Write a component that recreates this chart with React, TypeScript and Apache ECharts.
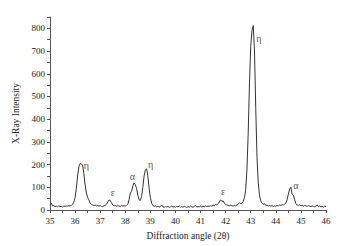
import React, { useEffect, useRef } from "react";
import * as echarts from "echarts";

const angles: number[] = [
  35.00, 35.05, 35.10, 35.15, 35.20, 35.25, 35.30, 35.35, 35.40, 35.45,
  35.50, 35.55, 35.60, 35.65, 35.70, 35.75, 35.80, 35.85, 35.90, 35.95,
  36.00, 36.05, 36.10, 36.15, 36.20, 36.25, 36.30, 36.35, 36.40, 36.45,
  36.50, 36.55, 36.60, 36.65, 36.70, 36.75, 36.80, 36.85, 36.90, 36.95,
  37.00, 37.05, 37.10, 37.15, 37.20, 37.25, 37.30, 37.35, 37.40, 37.45,
  37.50, 37.55, 37.60, 37.65, 37.70, 37.75, 37.80, 37.85, 37.90, 37.95,
  38.00, 38.05, 38.10, 38.15, 38.20, 38.25, 38.30, 38.35, 38.40, 38.45,
  38.50, 38.55, 38.60, 38.65, 38.70, 38.75, 38.80, 38.85, 38.90, 38.95,
  39.00, 39.05, 39.10, 39.15, 39.20, 39.25, 39.30, 39.35, 39.40, 39.45,
  39.50, 39.55, 39.60, 39.65, 39.70, 39.75, 39.80, 39.85, 39.90, 39.95,
  40.00, 40.05, 40.10, 40.15, 40.20, 40.25, 40.30, 40.35, 40.40, 40.45,
  40.50, 40.55, 40.60, 40.65, 40.70, 40.75, 40.80, 40.85, 40.90, 40.95,
  41.00, 41.05, 41.10, 41.15, 41.20, 41.25, 41.30, 41.35, 41.40, 41.45,
  41.50, 41.55, 41.60, 41.65, 41.70, 41.75, 41.80, 41.85, 41.90, 41.95,
  42.00, 42.05, 42.10, 42.15, 42.20, 42.25, 42.30, 42.35, 42.40, 42.45,
  42.50, 42.55, 42.60, 42.65, 42.70, 42.75, 42.80, 42.85, 42.90, 42.95,
  43.00, 43.05, 43.10, 43.15, 43.20, 43.25, 43.30, 43.35, 43.40, 43.45,
  43.50, 43.55, 43.60, 43.65, 43.70, 43.75, 43.80, 43.85, 43.90, 43.95,
  44.00, 44.05, 44.10, 44.15, 44.20, 44.25, 44.30, 44.35, 44.40, 44.45,
  44.50, 44.55, 44.60, 44.65, 44.70, 44.75, 44.80, 44.85, 44.90, 44.95,
  45.00, 45.05, 45.10, 45.15, 45.20, 45.25, 45.30, 45.35, 45.40, 45.45,
  45.50, 45.55, 45.60, 45.65, 45.70, 45.75, 45.80, 45.85, 45.90, 45.95,
  46.00,
];

const intensity: number[] = [
  22, 30, 18, 20, 15, 17, 14, 18, 15, 16,
  13, 17, 16, 18, 17, 19, 18, 20, 24, 35,
  55, 95, 150, 190, 205, 202, 198, 160, 110, 75,
  55, 45, 30, 25, 22, 20, 22, 18, 20, 17,
  19, 16, 15, 18, 20, 25, 35, 44, 42, 33,
  22, 18, 20, 16, 19, 18, 15, 20, 17, 19,
  17, 20, 25, 45, 75, 82, 105, 120, 112, 95,
  65, 45, 42, 60, 100, 150, 175, 182, 150, 95,
  55, 30, 20, 16, 18, 14, 16, 13, 15, 22,
  14, 12, 15, 13, 16, 12, 14, 17, 13, 15,
  12, 16, 14, 18, 13, 15, 12, 16, 14, 11,
  15, 13, 17, 14, 12, 16, 19, 13, 15, 14,
  17, 13, 16, 14, 18, 15, 17, 16, 19, 17,
  21, 19, 24, 22, 28, 35, 45, 38, 40, 30,
  25, 22, 20, 18, 21, 19, 17, 20, 18, 22,
  26, 32, 28, 30, 38, 55, 90, 180, 340, 560,
  720, 790, 812, 700, 450, 230, 120, 65, 40, 30,
  25, 28, 20, 22, 18, 20, 17, 19, 16, 18,
  17, 20, 18, 22, 20, 24, 22, 26, 30, 45,
  70, 92, 100, 68, 65, 45, 28, 22, 20, 23,
  19, 21, 17, 20, 18, 16, 19, 17, 15, 18,
  16, 14, 17, 22, 15, 18, 14, 16, 13, 17,
  15,
];

const yTicks: number[] = [0, 100, 200, 300, 400, 500, 600, 700, 800];
const xTicks: number[] = [35, 36, 37, 38, 39, 40, 41, 42, 43, 44, 45, 46];

const peakText: string[] = ["η", "ε", "α", "η", "ε", "η", "α"];
const peakAngle: number[] = [36.45, 37.5, 38.28, 39.01, 41.9, 43.32, 44.8];
const peakLevel: number[] = [195, 79, 149, 202, 80, 756, 107];

const FONT = "'Liberation Serif', 'DejaVu Serif', serif";

export default function App() {
  const ref = useRef<HTMLDivElement>(null);
  useEffect(() => {
    document.body.style.margin = "0";
    if (!ref.current) return;
    const chart = echarts.init(ref.current, null, { renderer: "svg" });
    const axisColor = "#555";
    chart.setOption({
      animation: false,
      backgroundColor: "#ffffff",
      grid: { left: 50, right: 17, top: 17, bottom: 35, containLabel: false },
      xAxis: {
        type: "value",
        min: 35,
        max: 46,
        interval: 0.5,
        name: "Diffraction angle (2θ)",
        nameLocation: "middle",
        nameGap: 21,
        nameTextStyle: { fontFamily: FONT, fontSize: 9.5, color: "#222" },
        axisLine: { show: true, onZero: false, lineStyle: { color: axisColor, width: 1 } },
        axisTick: { show: true, length: 3, lineStyle: { color: axisColor } },
        splitLine: { show: false },
        axisLabel: {
          fontFamily: FONT,
          fontSize: 9,
          color: "#222",
          margin: 6,
          formatter: (v: number) => (xTicks.includes(v) ? String(v) : ""),
        },
      },
      yAxis: {
        type: "value",
        min: 0,
        max: 850,
        interval: 50,
        name: "X-Ray Intensity",
        nameLocation: "middle",
        nameGap: 29,
        nameTextStyle: { fontFamily: FONT, fontSize: 9.5, color: "#222" },
        axisLine: { show: true, lineStyle: { color: axisColor, width: 1 } },
        axisTick: { show: true, length: 3, lineStyle: { color: axisColor } },
        splitLine: { show: false },
        axisLabel: {
          fontFamily: FONT,
          fontSize: 9,
          color: "#222",
          margin: 5,
          formatter: (v: number) => (yTicks.includes(v) ? String(v) : ""),
        },
      },
      series: [
        {
          type: "line",
          data: angles.map((a, i) => [a, intensity[i]]),
          showSymbol: false,
          symbol: "none",
          lineStyle: { color: "#333", width: 1 },
          silent: true,
        },
        {
          type: "scatter",
          data: peakAngle.map((a, i) => ({ value: [a, peakLevel[i]], name: peakText[i] })),
          symbolSize: 0,
          silent: true,
          label: {
            show: true,
            position: "inside",
            formatter: (p: any) => p.name,
            fontFamily: FONT,
            fontSize: 10,
            color: "#222",
          },
        },
      ],
    });
    return () => chart.dispose();
  }, []);
  return <div ref={ref} style={{ width: 343, height: 246 }} />;
}
